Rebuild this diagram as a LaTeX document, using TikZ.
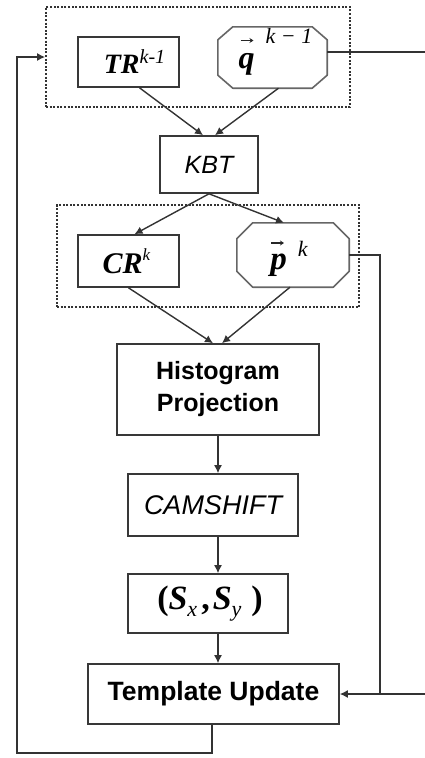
\documentclass[tikz,border=0pt]{standalone}
\usepackage{fontspec}
\setmainfont{Liberation Serif}
\setsansfont{Liberation Sans}
\usetikzlibrary{arrows.meta,calc}
\tikzset{
  boxstyle/.style={draw=black!78, line width=1.6pt, inner sep=0pt, rectangle},
  octstyle/.style={inner sep=0pt, rectangle},
  octline/.style={draw=black!60, line width=1.6pt, line join=round},
  groupstyle/.style={draw=black!80, line width=1.8pt, dash pattern=on 2pt off 1.6pt, inner sep=0pt, rectangle},
  arr/.style={draw=black!80, line width=1.4pt, -{Latex[length=8pt,width=8pt]}},
  plain/.style={draw=black!80, line width=1.4pt},
  vecarrow/.style={draw=black!85, line width=1.6pt, -{Stealth[length=4pt,width=5pt]}},
  sanstext/.style={font=\sffamily\bfseries\fontsize{25}{32}\selectfont, align=center},
}
\begin{document}
\begin{tikzpicture}[x=1pt,y=-1pt]
\useasboundingbox (0,0) rectangle (425,758);
% groups
\node[groupstyle, minimum width=304pt, minimum height=100pt] (g1) at (198,57) {};
\node[groupstyle, minimum width=302pt, minimum height=102pt] (g2) at (208,256) {};
% nodes
\node[boxstyle, minimum width=101pt, minimum height=50pt] (TR) at (128.5,62)
  {\hspace*{12pt}{\bfseries\itshape\fontsize{28}{28}\selectfont TR}\raisebox{10pt}{\itshape\fontsize{20}{20}\selectfont k-1}};
\node[octstyle, minimum width=109pt, minimum height=61pt] (q) at (272.5,57.5)
  {\raisebox{-11pt}[0pt][0pt]{\hspace*{6pt}{\bfseries\itshape\fontsize{32}{32}\selectfont q}\raisebox{25pt}[0pt][0pt]{\itshape\fontsize{22}{22}\selectfont\ \ k − 1}}};
\draw[octline] ($(q.north west)+(15,0)$) -- ($(q.north east)+(-15,0)$) -- ($(q.north east)+(0,13)$)
  -- ($(q.south east)+(0,-13)$) -- ($(q.south east)+(-15,0)$) -- ($(q.south west)+(15,0)$)
  -- ($(q.south west)+(0,-13)$) -- ($(q.north west)+(0,13)$) -- cycle;
\draw[vecarrow] ($(q.center)+(-32,-17)$) -- ($(q.center)+(-19,-17)$);
\node[boxstyle, minimum width=98pt, minimum height=57pt] (KBT) at (209,164.5)
  {\sffamily\itshape\fontsize{25}{25}\selectfont KBT};
\node[boxstyle, minimum width=101pt, minimum height=52pt] (CR) at (128.5,261)
  {{\bfseries\itshape\fontsize{30}{30}\selectfont CR}\raisebox{13pt}{\itshape\fontsize{17}{17}\selectfont k}\hspace*{4pt}};
\node[octstyle, minimum width=112pt, minimum height=64pt] (p) at (293,255)
  {\raisebox{-14pt}[0pt][0pt]{\hspace*{-8pt}{\bfseries\itshape\fontsize{33}{33}\selectfont p}\raisebox{13pt}[0pt][0pt]{\itshape\fontsize{22}{22}\selectfont\ \ k}}};
\draw[octline] ($(p.north west)+(16,0)$) -- ($(p.north east)+(-16,0)$) -- ($(p.north east)+(0,16)$)
  -- ($(p.south east)+(0,-16)$) -- ($(p.south east)+(-16,0)$) -- ($(p.south west)+(16,0)$)
  -- ($(p.south west)+(0,-16)$) -- ($(p.north west)+(0,16)$) -- cycle;
\draw[vecarrow] ($(p.center)+(-22,-12)$) -- ($(p.center)+(-9,-12)$);
\node[boxstyle, sanstext, minimum width=202pt, minimum height=91pt] (H) at (218,389.5)
  {Histogram\\Projection};
\node[boxstyle, minimum width=170pt, minimum height=62pt] (C) at (213,505)
  {\sffamily\itshape\fontsize{27}{27}\selectfont CAMSHIFT};
\node[boxstyle, minimum width=160pt, minimum height=59pt] (S) at (208,603.5)
  {\fontsize{34}{34}\selectfont\bfseries\hspace*{4pt}(\textit{S}\raisebox{-7pt}{\mdseries\itshape\fontsize{22}{22}\selectfont x}\hspace{4pt},\hspace{3pt}\textit{S}\raisebox{-7pt}{\mdseries\itshape\fontsize{22}{22}\selectfont y}\hspace{10pt})};
\node[boxstyle, sanstext, minimum width=251pt, minimum height=60pt] (TU) at (213.5,694)
  {\fontsize{26.5}{26.5}\selectfont Template Update};
% coordinates
\coordinate (bl) at (17,753);
\coordinate (qr) at (425,52);
\coordinate (pc) at (380,694);
\coordinate (pr) at (425,694);
% connectors
\draw[arr] ($(TR.south)+(11,0)$) -- ($(KBT.north)+(-6,0)$);
\draw[arr] ($(q.south)+(6,0)$) -- ($(KBT.north)+(6,0)$);
\draw[arr] (KBT.south) -- ($(CR.north)+(6,0)$);
\draw[arr] (KBT.south) -- ($(p.north)+(-9,0)$);
\draw[arr] (CR.south) -- ($(H.north)+(-5,0)$);
\draw[arr] ($(p.south)+(-3,0)$) -- ($(H.north)+(4,0)$);
\draw[arr] (H.south) -- (H.south |- C.north);
\draw[arr] (H.south |- C.south) -- (H.south |- S.north);
\draw[arr] (H.south |- S.south) -- (H.south |- TU.north);
\draw[arr] ($(TU.south)+(-1.5,0)$) |- (bl) |- (g1.west);
\draw[plain] (q.east |- qr) -- (qr);
\draw[plain] (p.east) -| (pc);
\draw[arr] (pr) -- (TU.east);
\end{tikzpicture}
\end{document}
